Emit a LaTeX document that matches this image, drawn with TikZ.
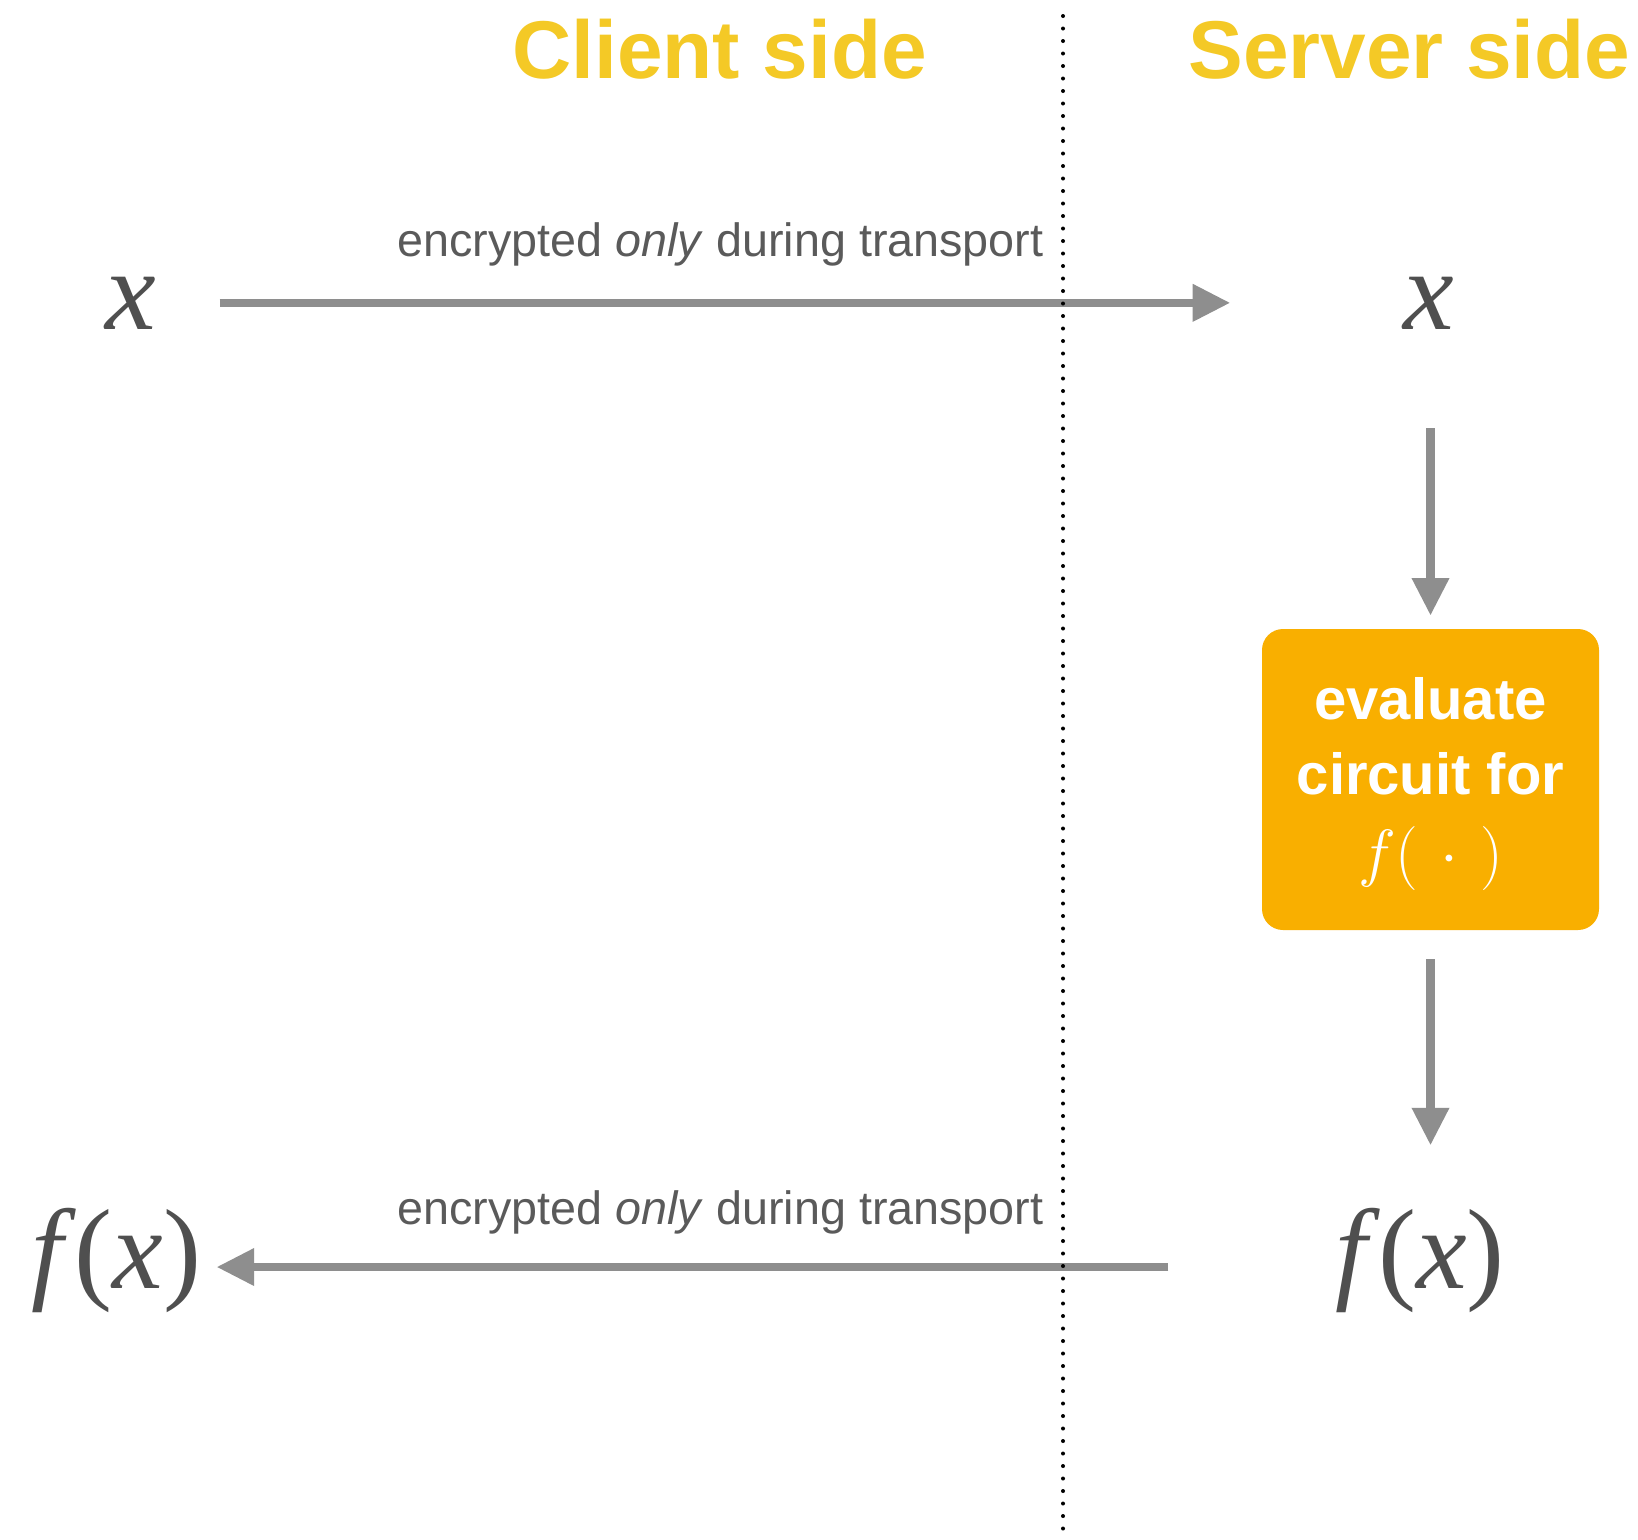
\RequirePackage{fix-cm}
\documentclass[tikz,border=0pt]{standalone}
\usepackage{fontspec}
\setmainfont{Liberation Serif}
\newfontfamily\sansfont{Liberation Sans}
\usetikzlibrary{arrows.meta}
\definecolor{headyellow}{HTML}{F4C926}
\definecolor{boxorange}{HTML}{F9AF00}
\definecolor{arrowgray}{HTML}{8E8E8E}
\definecolor{labelgray}{HTML}{5A5A5A}
\definecolor{mathgray}{HTML}{4F4F4F}
\tikzset{
  heading/.style={anchor=base west, inner sep=0pt, text=headyellow,
    font=\sansfont\bfseries\fontsize{41pt}{49pt}\selectfont},
  translabel/.style={anchor=base west, inner sep=0pt, text=labelgray,
    font=\sansfont\fontsize{23.35pt}{28pt}\selectfont},
  mathlabel/.style={anchor=base, inner sep=0pt, text=mathgray,
    font=\fontsize{57pt}{68pt}\selectfont},
  flow/.style={draw=arrowgray, line width=4.2pt,
    -{Triangle[length=18.8pt,width=17.75pt]}},
  evalbox/.style={fill=boxorange, rounded corners=10.5pt,
    minimum width=168.5pt, minimum height=150.5pt, text=white,
    align=center, inner sep=0pt,
    font=\sansfont\bfseries\fontsize{29pt}{37.5pt}\selectfont},
  divider/.style={line width=2pt, line cap=round, dash pattern=on 0pt off 6.25pt}
}
\begin{document}
\begin{tikzpicture}[x=0.5pt,y=-0.5pt]
  \useasboundingbox (0,0) rectangle (1638,1539);
  \fill[white] (0,0) rectangle (1638,1539);

  % column headings
  \node[heading] (client) at (512,78) {Client side};
  \node[heading] (server) at (1188,78) {Server side};

  % values on both sides
  \node[mathlabel] (xl) at (131,329) {\textit{x}};
  \node[mathlabel] (xr) at (1429,329) {\textit{x}};
  \node[mathlabel] (fl) at (116.5,1288) {\textit{f}\kern-1pt(\textit{x})};
  \node[mathlabel] (fr) at (1420,1288) {\textit{f}\kern-1pt(\textit{x})};

  % server-side computation
  \node[evalbox] (box) at (1430.5,779.5)
    {\rule{0pt}{25.5pt}evaluate\\circuit for\\[2.5pt]{\mdseries\fontsize{32pt}{37.5pt}\selectfont
      $f(\hspace{11pt}\cdot\hspace{11pt})$}};

  % transport labels
  \node[translabel] (lblto) at (397,256) {encrypted \textit{only} during transport};
  \node[translabel] (lblback) at (397,1224) {encrypted \textit{only} during transport};

  % data flow
  \draw[flow, shorten <=31.5pt, shorten >=86.5pt] (xl.east) -- (xr.west);
  \draw[flow, shorten <=49.5pt, shorten >=6.5pt] (box.north |- xr.south) -- (box.north);
  \draw[flow, shorten <=14.5pt, shorten >=31pt] (box.south) -- (box.south |- fr.north);
  \draw[flow, shorten <=83.3pt, shorten >=7.5pt] ([yshift=-3.5pt]fr.west) -- ([yshift=-3.5pt]fl.east);

  % client / server boundary
  \coordinate (divtop) at (1063,16);
  \coordinate (divbot) at (1063,1539);
  \draw[divider] (divtop) -- (divbot);
\end{tikzpicture}
\end{document}
